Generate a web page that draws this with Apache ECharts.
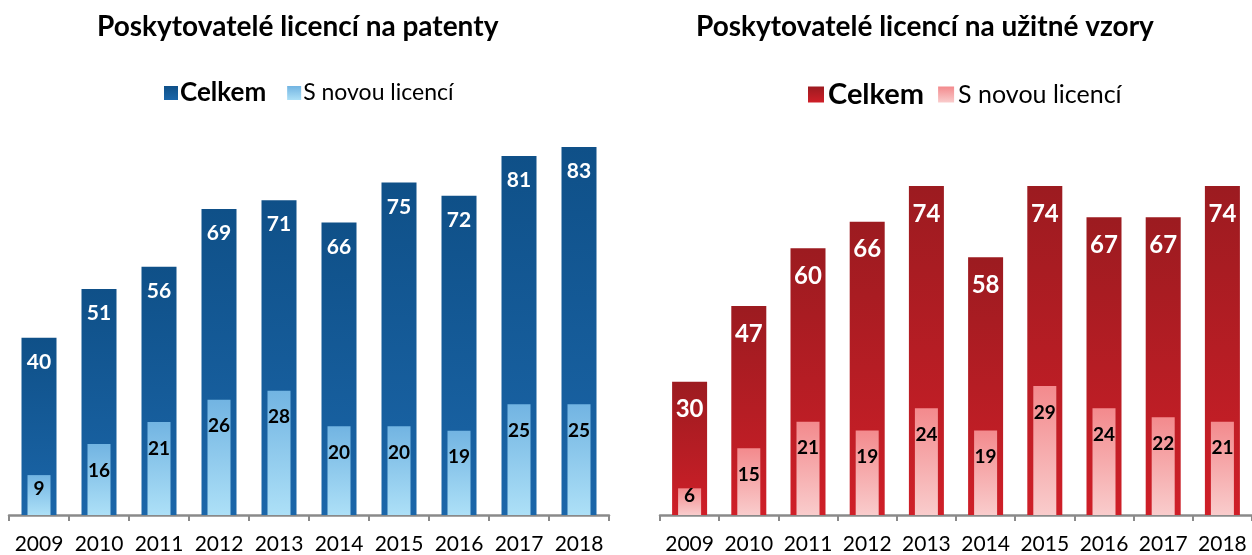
<!DOCTYPE html>
<html>
<head>
<meta charset="utf-8">
<title>Poskytovatelé licencí</title>
<script src="https://cdn.jsdelivr.net/npm/echarts@6/dist/echarts.min.js"></script>
<style>
  html, body { margin: 0; padding: 0; background: #fff; }
  #chart { width: 1252px; height: 555px; }
</style>
</head>
<body>
<div id="chart"></div>
<script>
var years = ['2009', '2010', '2011', '2012', '2013', '2014', '2015', '2016', '2017', '2018'];
// patenty
var patCelkem = [40, 51, 56, 69, 71, 66, 75, 72, 81, 83];
var patNove = [9, 16, 21, 26, 28, 20, 20, 19, 25, 25];
// uzitne vzory
var uvCelkem = [30, 47, 60, 66, 74, 58, 74, 67, 67, 74];
var uvNove = [6, 15, 21, 19, 24, 19, 29, 24, 22, 21];

var font = 'Lato, "DejaVu Sans", sans-serif';

function grad(top, bottom) {
  return new echarts.graphic.LinearGradient(0, 0, 0, 1, [
    { offset: 0, color: top },
    { offset: 1, color: bottom }
  ]);
}

var blueDark = grad('#0f5088', '#1b66a9');
var blueLight = grad('#72b4e2', '#ade0f7');
var redDark = grad('#9c1b20', '#cf1f28');
var redLight = grad('#f38a8d', '#f9cccc');

function catAxis(grid, show) {
  return {
    type: 'category',
    gridIndex: grid,
    data: years,
    show: show,
    axisLine: { show: show, lineStyle: { color: '#8a8a8a', width: 2.5 } },
    axisTick: { show: show, length: 6, lineStyle: { color: '#8a8a8a', width: 2 } },
    axisLabel: { show: show, interval: 0, hideOverlap: false, color: '#000', fontSize: 21, fontFamily: font, margin: 19 }
  };
}

function valAxis(grid) {
  return { type: 'value', gridIndex: grid, min: 0, max: 90, show: false, splitLine: { show: false } };
}

function legendFmt(name) {
  return name.trim() === 'Celkem' ? '{b|Celkem}' : '{n|S novou licencí}';
}

// short bars: label sits a bit higher, like in the original
function smallLabels(arr) {
  return arr.map(function (v) {
    return v < 12 ? { value: v, label: { position: 'inside', offset: [0, -6] } } : v;
  });
}

var chart = echarts.init(document.getElementById('chart'));

var option = {
  animation: false,
  title: [
    {
      text: 'Poskytovatelé licencí na patenty',
      left: 92, top: 8,
      textStyle: { fontSize: 28, fontWeight: 'bold', color: '#000', fontFamily: font }
    },
    {
      text: 'Poskytovatelé licencí na užitné vzory',
      left: 691, top: 8,
      textStyle: { fontSize: 28, fontWeight: 'bold', color: '#000', fontFamily: font }
    }
  ],
  legend: [
    {
      data: ['Celkem', 'S novou licencí'],
      left: 159, top: 75,
      itemWidth: 14, itemHeight: 14, itemGap: 21,
      icon: 'rect',
      formatter: legendFmt,
      textStyle: {
        padding: [0, 0, 0, -3],
        rich: {
          b: { fontSize: 26, fontWeight: 'bold', color: '#000', fontFamily: font },
          n: { fontSize: 23, color: '#000', fontFamily: font }
        }
      }
    },
    {
      data: ['Celkem ', 'S novou licencí '],
      left: 803, top: 75,
      itemWidth: 16, itemHeight: 16, itemGap: 14,
      icon: 'rect',
      formatter: legendFmt,
      textStyle: {
        padding: [0, 0, 0, -1],
        rich: {
          b: { fontSize: 29, fontWeight: 'bold', color: '#000', fontFamily: font },
          n: { fontSize: 25, color: '#000', fontFamily: font }
        }
      }
    }
  ],
  grid: [
    { left: 9, top: 116, width: 600, height: 400 },
    { left: 660, top: 115, width: 600, height: 402 }
  ],
  xAxis: [catAxis(0, true), catAxis(0, false), catAxis(1, true), catAxis(1, false)],
  yAxis: [valAxis(0), valAxis(0), valAxis(1), valAxis(1)],
  series: [
    {
      name: 'Celkem', type: 'bar', xAxisIndex: 0, yAxisIndex: 0,
      data: patCelkem, barWidth: 35,
      itemStyle: { color: blueDark },
      label: { show: true, position: 'insideTop', distance: 14, color: '#fff', fontSize: 21, fontWeight: 'bold', fontFamily: font }
    },
    {
      name: 'S novou licencí', type: 'bar', xAxisIndex: 1, yAxisIndex: 1,
      data: smallLabels(patNove), barWidth: 23, z: 3,
      itemStyle: { color: blueLight },
      label: { show: true, position: 'insideTop', distance: 17, color: '#000', fontSize: 19, fontWeight: 'bold', fontFamily: font }
    },
    {
      name: 'Celkem ', type: 'bar', xAxisIndex: 2, yAxisIndex: 2,
      data: uvCelkem, barWidth: 35,
      itemStyle: { color: redDark },
      label: { show: true, position: 'insideTop', distance: 16, color: '#fff', fontSize: 24, fontWeight: 'bold', fontFamily: font }
    },
    {
      name: 'S novou licencí ', type: 'bar', xAxisIndex: 3, yAxisIndex: 3,
      data: smallLabels(uvNove), barWidth: 23, z: 3,
      itemStyle: { color: redLight },
      label: { show: true, position: 'insideTop', distance: 17, color: '#000', fontSize: 19, fontWeight: 'bold', fontFamily: font }
    }
  ]
};

chart.setOption(option);
</script>
</body>
</html>
